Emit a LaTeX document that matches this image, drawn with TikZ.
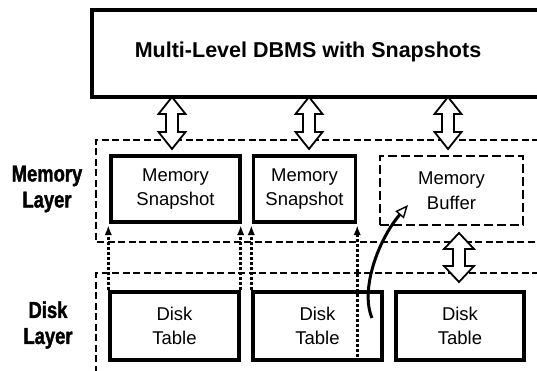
\documentclass[tikz,border=0pt]{standalone}
\usepackage{fontspec}
\setmainfont{Liberation Sans}
\newfontfamily\condfont[FakeStretch=0.8,FakeBold=1.5]{Liberation Sans}
\usetikzlibrary{arrows.meta}
\begin{document}
\begin{tikzpicture}[x=1pt,y=-1pt,
  thickbox/.style={draw, line width=3.4pt, inner sep=0pt, align=center,
    font=\fontsize{18.5}{24.5}\selectfont},
  dashbox/.style={draw, line width=1.8pt, dash pattern=on 9pt off 4pt, inner sep=0pt, align=center,
    font=\fontsize{18.5}{24.5}\selectfont},
  layerline/.style={line width=1.4pt, dash pattern=on 7pt off 3.5pt},
  layerlabel/.style={align=center, font=\condfont\bfseries\fontsize{23}{26}\selectfont},
  dotarrow/.style={line width=2.6pt, dash pattern=on 3pt off 2pt, shorten >=1.5pt,
    -{Latex[length=10pt,width=7.5pt]}},
  blockarrow/.style={line width=1.8pt, fill=white, line join=miter},
  curvearrow/.style={line width=3pt, -{Triangle[open,length=13pt,width=11pt,line width=1.4pt]}},
  pics/dblarrow/.style n args={4}{code={
    \draw[blockarrow] (0,0) -- (#2,#3) -- (#4,#3) -- (#4,#1-#3) -- (#2,#1-#3) -- (0,#1)
      -- (-#2,#1-#3) -- (-#4,#1-#3) -- (-#4,#3) -- (-#2,#3) -- cycle;}}
]
\useasboundingbox (0,0) rectangle (537,371);
\clip (0,0) rectangle (537,371);
\fill[white] (0,0) rectangle (537,371);

% layers
\draw[layerline] (560,140) -- (96,140) -- (96,242) -- (560,242);
\draw[layerline] (560,273) -- (96,273) -- (96,390);

% top box
\node[thickbox, line width=3.6pt, minimum width=470, minimum height=87] (dbms) at (327,53.5) {};
\node[font=\bfseries\fontsize{21.5}{24}\selectfont] (title) at (308,52) {Multi-Level DBMS with Snapshots};

% layer labels
\node[layerlabel] (memlabel) at (47,189) {Memory\\Layer};
\node[layerlabel] (disklabel) at (48,325) {Disk\\Layer};

% memory layer
\node[thickbox, minimum width=129, minimum height=66] (ms1) at (175.5,189) {Memory\\Snapshot};
\node[thickbox, minimum width=102, minimum height=66] (ms2) at (304.5,189) {Memory\\Snapshot};
\node[dashbox, minimum width=143, minimum height=69] (mb) at (451.5,190.5) {Memory\\Buffer};

% disk layer
\node[thickbox, minimum width=129, minimum height=68] (dt1) at (174.5,326) {Disk\\Table};
\node[thickbox, minimum width=129, minimum height=68] (dt2) at (317.5,326) {Disk\\Table};
\node[thickbox, minimum width=128, minimum height=68] (dt3) at (460,326) {Disk\\Table};

% dotted arrows
\draw[dotarrow] (dt1.north west) -- (dt1.north west |- ms1.south);
\draw[dotarrow] (dt1.north east) -- (dt1.north east |- ms1.south);
\draw[dotarrow] (dt2.north west) -- (dt2.north west |- ms2.south);
\draw[dotarrow] (ms2.south east |- dt2.south) -- (ms2.south east);

% block double arrows
\pic at (172,97) {dblarrow={52}{13.5}{17}{6}};
\pic at (309,97) {dblarrow={52}{13.5}{17}{6}};
\pic at (448,97) {dblarrow={52}{13.5}{17}{6}};
\pic at (459,233) {dblarrow={49}{15}{16}{6}};

% curved arrow
\coordinate (cs) at (372,318);
\coordinate (ce) at (408,205);
\draw[curvearrow] (cs) .. controls (360,290) and (378,240) .. (ce);
\end{tikzpicture}
\end{document}
